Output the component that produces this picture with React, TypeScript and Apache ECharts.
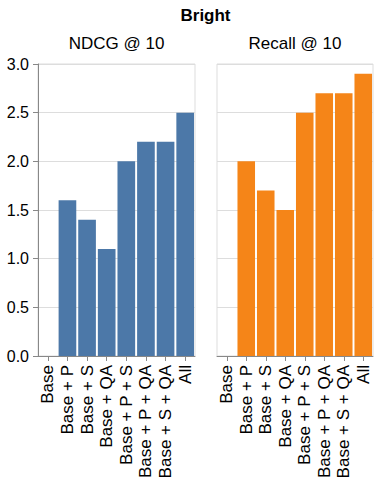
import React, { useEffect, useRef } from "react";
import * as echarts from "echarts";

const categories = ["Base", "Base + P", "Base + S", "Base + QA", "Base + P + S", "Base + P + QA", "Base + S + QA", "All"];
const ndcgValues = [0, 1.6, 1.4, 1.1, 2.0, 2.2, 2.2, 2.5];
const recallValues = [0, 2.0, 1.7, 1.5, 2.5, 2.7, 2.7, 2.9];
const mainTitle = "Bright";
const panelTitles = ["NDCG @ 10", "Recall @ 10"];

const FONT = "'Liberation Sans', Arial, Helvetica, sans-serif";

export default function App() {
  const ref = useRef<HTMLDivElement>(null);
  useEffect(() => {
    if (!ref.current) return;
    const chart = echarts.init(ref.current, undefined, { renderer: "svg" });
    const grids = [
      { left: 38, top: 64, width: 157, height: 292 },
      { left: 217, top: 64, width: 156, height: 292 },
    ];
    const xAxis = grids.map((_, i) => ({
      type: "category",
      gridIndex: i,
      data: categories,
      boundaryGap: true,
      axisLine: { show: true, lineStyle: { color: "#888", width: 1 } },
      axisTick: { show: true, alignWithLabel: true, length: 5, lineStyle: { color: "#888" } },
      axisLabel: {
        rotate: 90,
        interval: 0,
        fontSize: 17,
        color: "#000",
        fontFamily: FONT,
        margin: 9,
      },
      splitLine: { show: false },
    }));
    const yAxis = grids.map((_, i) => ({
      type: "value",
      gridIndex: i,
      min: 0,
      max: 3,
      interval: 0.5,
      axisLine: { show: i === 0, lineStyle: { color: "#888", width: 1 } },
      axisTick: { show: i === 0, length: 5, lineStyle: { color: "#888" } },
      axisLabel: {
        show: i === 0,
        fontSize: 16,
        color: "#000",
        fontFamily: FONT,
        margin: 9,
        formatter: (v: number) => v.toFixed(1),
      },
      splitLine: { show: true, lineStyle: { color: "#ddd", width: 1 } },
    }));
    chart.setOption({
      animation: false,
      grid: grids.map((g) => ({ ...g, show: true, borderColor: "#ddd", borderWidth: 1, backgroundColor: "transparent" })),
      xAxis,
      yAxis,
      series: [
        {
          type: "bar",
          xAxisIndex: 0,
          yAxisIndex: 0,
          data: ndcgValues,
          barCategoryGap: "10%",
          itemStyle: { color: "#4c78a8" },
        },
        {
          type: "bar",
          xAxisIndex: 1,
          yAxisIndex: 1,
          data: recallValues,
          barCategoryGap: "10%",
          itemStyle: { color: "#f58518" },
        },
      ],
      graphic: [
        {
          type: "text",
          x: 205.5,
          y: 15,
          style: {
            text: mainTitle,
            textAlign: "center",
            textVerticalAlign: "middle",
            font: `bold 17px ${FONT}`,
            fill: "#000",
          },
        },
        {
          type: "text",
          x: 116.5,
          y: 43,
          style: {
            text: panelTitles[0],
            textAlign: "center",
            textVerticalAlign: "middle",
            font: `17px ${FONT}`,
            fill: "#000",
          },
        },
        {
          type: "text",
          x: 295,
          y: 43,
          style: {
            text: panelTitles[1],
            textAlign: "center",
            textVerticalAlign: "middle",
            font: `17px ${FONT}`,
            fill: "#000",
          },
        },
      ],
    });
    return () => chart.dispose();
  }, []);
  return (
    <div
      ref={ref}
      style={{ position: "absolute", left: 0, top: 0, width: 379, height: 490, background: "#fff" }}
    />
  );
}
